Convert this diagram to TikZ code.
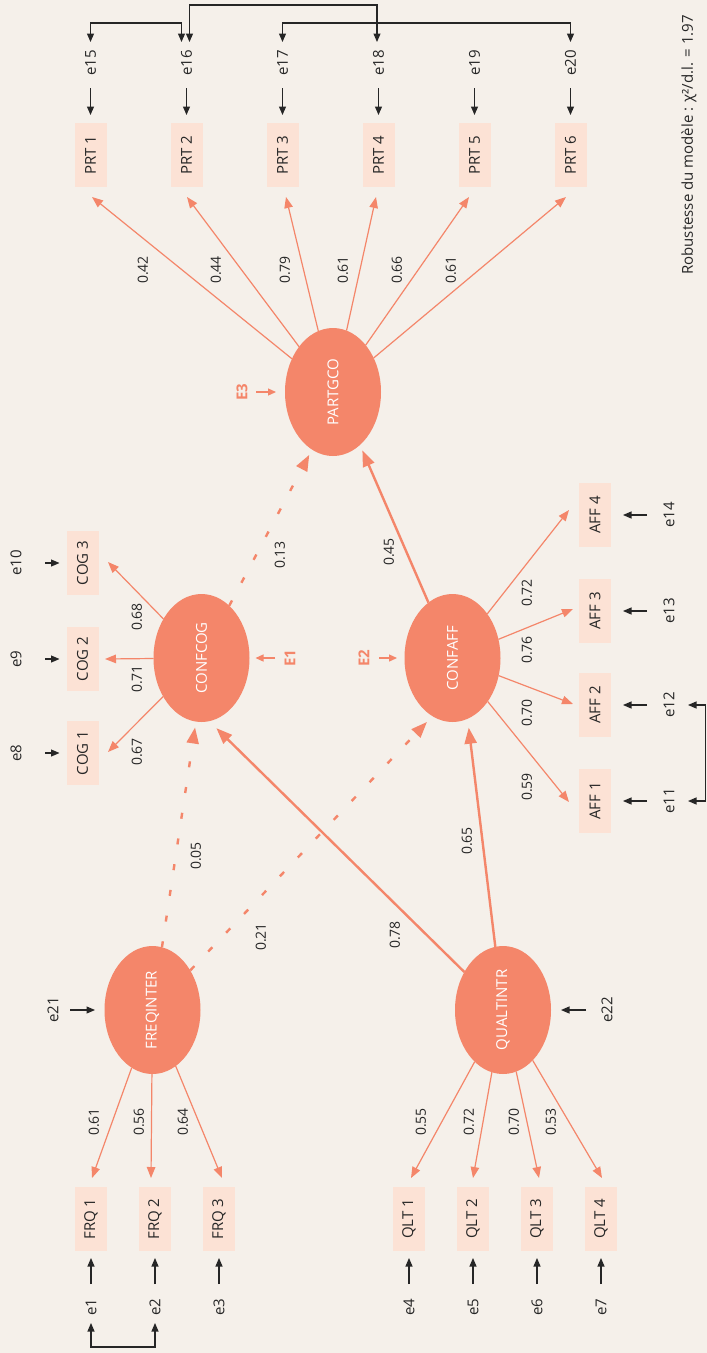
\documentclass[tikz,border=0pt]{standalone}
\usepackage{fontspec}
\setmainfont{Open Sans}
\usepackage{graphicx}
\usetikzlibrary{shapes.geometric,arrows.meta,calc}
\definecolor{bg}{HTML}{F5F0EA}
\definecolor{salmon}{HTML}{F4866A}
\definecolor{peach}{HTML}{FCE2D5}
\definecolor{ink}{HTML}{262626}
\newcommand\vtxt[1]{\rotatebox{90}{#1}}
\newcommand\txtfont{\fontsize{15}{18}\selectfont}
\newcommand\numfont{\fontsize{14}{17}\selectfont}

\begin{document}
\begin{tikzpicture}[x=1pt,y=-1pt,
  latent/.style={ellipse, fill=salmon, minimum width=96pt, minimum height=128pt,
    inner sep=0pt, outer sep=0pt, text=white, font=\txtfont},
  indbox/.style={rectangle, fill=peach, minimum width=32pt, minimum height=64pt,
    inner sep=0pt, outer sep=0pt, text=ink, font=\txtfont},
  errlbl/.style={inner sep=0pt, outer sep=0pt, minimum width=14pt, minimum height=30pt,
    text=ink, font=\txtfont},
  coef/.style={inner sep=0pt, text=ink, font=\numfont},
  distlbl/.style={inner sep=0pt, outer sep=0pt, minimum width=12pt, text=salmon,
    font=\txtfont\bfseries},
  meas/.style={draw=salmon, line width=1.2pt, -{Triangle[length=11pt,width=8.5pt]}},
  struct/.style={draw=salmon, line width=2.4pt, -{Triangle[length=16pt,width=12pt]}},
  weakpath/.style={struct, dash pattern=on 6pt off 20pt},
  erra/.style={draw=ink, line width=1.1pt, -{Triangle[length=8.5pt,width=7pt]}},
  cov/.style={draw=ink, line width=1.1pt,
    {Triangle[length=8.5pt,width=7pt]}-{Triangle[length=8.5pt,width=7pt]}},
  darr/.style={draw=salmon, line width=1.3pt, -{Triangle[length=8pt,width=7pt]}},
]
\fill[bg] (0,0) rectangle (707,1353);
\useasboundingbox (0,0) rectangle (707,1353);

% latent variables
\node[latent] (PARTGCO)   at (333,392)    {\vtxt{PARTGCO}};
\node[latent] (CONFCOG)   at (201.5,658)  {\vtxt{CONFCOG}};
\node[latent] (CONFAFF)   at (452.5,658)  {\vtxt{CONFAFF}};
\node[latent] (FREQINTER) at (152.5,1010) {\vtxt{FREQINTER}};
\node[latent] (QUALTINTR) at (503,1010)   {\vtxt{QUALTINTR}};

% participation items
\node[indbox] (PRT1) at (90.5,155)  {\vtxt{PRT 1}};
\node[indbox] (PRT2) at (186.5,155) {\vtxt{PRT 2}};
\node[indbox] (PRT3) at (282.5,155) {\vtxt{PRT 3}};
\node[indbox] (PRT4) at (378.5,155) {\vtxt{PRT 4}};
\node[indbox] (PRT5) at (474.5,155) {\vtxt{PRT 5}};
\node[indbox] (PRT6) at (570.5,155) {\vtxt{PRT 6}};
\node[errlbl] (e15) at (90.5,63)  {\vtxt{e15}};
\node[errlbl] (e16) at (186.5,63) {\vtxt{e16}};
\node[errlbl] (e17) at (282.5,63) {\vtxt{e17}};
\node[errlbl] (e18) at (378.5,63) {\vtxt{e18}};
\node[errlbl] (e19) at (474.5,63) {\vtxt{e19}};
\node[errlbl] (e20) at (570.5,63) {\vtxt{e20}};
\foreach \i/\e in {1/15,2/16,3/17,4/18,5/19,6/20}
  \draw[erra] ($(e\e.south)+(0,10)$) -- ($(PRT\i.north)+(0,-8)$);
\draw[cov] ($(e15.north)+(0,-6)$) -- ++(0,-19) -| ($(e16.north)+(-5,-6)$);
\draw[cov] ($(e16.north)+(3,-6)$) -- ++(0,-37) -| ($(e18.north)+(-1.5,-6)$);
\draw[cov] ($(e17.north)+(0,-6)$) -- ++(0,-19) -| ($(e20.north)+(0,-6)$);

\draw[meas] (PARTGCO) -- ($(PRT1.south)+(1.5,10)$);
\draw[meas] (PARTGCO) -- ($(PRT2.south)+(0.5,10)$);
\draw[meas] (PARTGCO) -- ($(PRT3.south)+(3.5,10)$);
\draw[meas] (PARTGCO) -- ($(PRT4.south)+(-2.5,10)$);
\draw[meas] (PARTGCO) -- ($(PRT5.south)+(-5.5,10)$);
\draw[meas] (PARTGCO) -- ($(PRT6.south)+(-4.5,10)$);
\node[coef] at (143,270) {\vtxt{0.42}};
\node[coef] at (216,270) {\vtxt{0.44}};
\node[coef] at (285,270) {\vtxt{0.79}};
\node[coef] at (343,270) {\vtxt{0.61}};
\node[coef] at (397,270) {\vtxt{0.66}};
\node[coef] at (451,270) {\vtxt{0.61}};

% cognitive items
\node[indbox] (COG3) at (82.5,563) {\vtxt{COG 3}};
\node[indbox] (COG2) at (82.5,659) {\vtxt{COG 2}};
\node[indbox] (COG1) at (82.5,753) {\vtxt{COG 1}};
\node[errlbl] (e10) at (16,563) {\vtxt{e10}};
\node[errlbl] (e9)  at (16,659) {\vtxt{e9}};
\node[errlbl] (e8)  at (16,753) {\vtxt{e8}};
\foreach \c/\e in {3/10,2/9,1/8}
  \draw[erra] ($(e\e.east)+(22,0)$) -- ($(COG\c.west)+(-7,0)$);
\draw[meas] (CONFCOG) -- ($(COG3.east)+(9.5,-1)$);
\draw[meas] (CONFCOG) -- ($(COG2.east)+(6.5,0)$);
\draw[meas] (CONFCOG) -- ($(COG1.east)+(9.5,-1)$);
\node[coef] at (137,617) {\vtxt{0.68}};
\node[coef] at (137,679) {\vtxt{0.71}};
\node[coef] at (137,752) {\vtxt{0.67}};

% affective items
\node[indbox] (AFF4) at (595,515) {\vtxt{AFF 4}};
\node[indbox] (AFF3) at (595,611) {\vtxt{AFF 3}};
\node[indbox] (AFF2) at (595,705) {\vtxt{AFF 2}};
\node[indbox] (AFF1) at (595,801) {\vtxt{AFF 1}};
\node[errlbl] (e14) at (669,515) {\vtxt{e14}};
\node[errlbl] (e13) at (669,611) {\vtxt{e13}};
\node[errlbl] (e12) at (669,705) {\vtxt{e12}};
\node[errlbl] (e11) at (669,801) {\vtxt{e11}};
\foreach \a/\e in {4/14,3/13,2/12,1/11}
  \draw[erra] ($(e\e.west)+(-15,0)$) -- ($(AFF\a.east)+(12,0)$);
\draw[cov] ($(e12.east)+(12,0)$) -- ++(17.5,0) |- ($(e11.east)+(12,0)$);
\draw[meas] (CONFAFF) -- ($(AFF4.west)+(-10,-5)$);
\draw[meas] (CONFAFF) -- ($(AFF3.west)+(-6,-2)$);
\draw[meas] (CONFAFF) -- ($(AFF2.west)+(-6,-1)$);
\draw[meas] (CONFAFF) -- ($(AFF1.west)+(-10,1)$);
\node[coef] at (527,593) {\vtxt{0.72}};
\node[coef] at (527,650) {\vtxt{0.76}};
\node[coef] at (527,713) {\vtxt{0.70}};
\node[coef] at (527,787) {\vtxt{0.59}};

% disturbances
\node[distlbl] (E3) at (242,392) {\vtxt{E3}};
\node[distlbl] (E1) at (290,658) {\vtxt{E1}};
\node[distlbl] (E2) at (364,658) {\vtxt{E2}};
\draw[darr] ($(E3.east)+(8,0)$) -- ($(PARTGCO.west)+(-9,0)$);
\draw[darr] ($(E1.west)+(-9,0)$) -- ($(CONFCOG.east)+(6,0)$);
\draw[darr] ($(E2.east)+(9,0)$) -- ($(CONFAFF.west)+(-7.5,0)$);

% structural paths
\draw[struct, shorten >=6pt]  (CONFAFF)   -- (PARTGCO.297);
\draw[struct, shorten >=10pt] (QUALTINTR) -- (CONFCOG.277);
\draw[struct, shorten >=9pt]  (QUALTINTR) -- (CONFAFF.284);
\draw[weakpath, shorten >=6pt] (CONFCOG)   -- (PARTGCO.250);
\draw[weakpath, shorten >=6pt] (FREQINTER) -- (CONFCOG.265);
\draw[weakpath, shorten >=8pt] (FREQINTER) -- (CONFAFF.251);
\node[coef] at (280,555) {\vtxt{0.13}};
\node[coef] at (389,552) {\vtxt{0.45}};
\node[coef] at (196,856) {\vtxt{0.05}};
\node[coef] at (261,937) {\vtxt{0.21}};
\node[coef] at (395,935) {\vtxt{0.78}};
\node[coef] at (467,841) {\vtxt{0.65}};

% exogenous disturbances
\node[errlbl] (e21) at (53,1010)  {\vtxt{e21}};
\node[errlbl] (e22) at (607,1010) {\vtxt{e22}};
\draw[erra] ($(e21.east)+(10,0)$) -- ($(FREQINTER.west)+(-9.5,0)$);
\draw[erra] ($(e22.west)+(-14,0)$) -- ($(QUALTINTR.east)+(10,0)$);

% frequency items
\node[indbox] (FRQ1) at (91,1219)  {\vtxt{FRQ 1}};
\node[indbox] (FRQ2) at (155,1219) {\vtxt{FRQ 2}};
\node[indbox] (FRQ3) at (219,1219) {\vtxt{FRQ 3}};
\node[errlbl] (e1) at (91,1307)  {\vtxt{e1}};
\node[errlbl] (e2) at (155,1307) {\vtxt{e2}};
\node[errlbl] (e3) at (219,1307) {\vtxt{e3}};
\foreach \i in {1,2,3}
  \draw[erra] ($(e\i.north)+(0,-8)$) -- ($(FRQ\i.south)+(0,7)$);
\draw[cov] ($(e1.south)+(0,1)$) -- ++(0,24) -| ($(e2.south)+(0,1)$);
\draw[meas] (FREQINTER) -- ($(FRQ1.north)+(1,-9)$);
\draw[meas] (FREQINTER) -- ($(FRQ2.north)+(-4,-9)$);
\draw[meas] (FREQINTER) -- ($(FRQ3.north)+(3,-9)$);
\node[coef] at (94,1122)  {\vtxt{0.61}};
\node[coef] at (139,1122) {\vtxt{0.56}};
\node[coef] at (183,1122) {\vtxt{0.64}};

% quality items
\node[indbox] (QLT1) at (409,1219) {\vtxt{QLT 1}};
\node[indbox] (QLT2) at (473,1219) {\vtxt{QLT 2}};
\node[indbox] (QLT3) at (537,1219) {\vtxt{QLT 3}};
\node[indbox] (QLT4) at (601,1219) {\vtxt{QLT 4}};
\node[errlbl] (e4) at (409,1307) {\vtxt{e4}};
\node[errlbl] (e5) at (473,1307) {\vtxt{e5}};
\node[errlbl] (e6) at (537,1307) {\vtxt{e6}};
\node[errlbl] (e7) at (601,1307) {\vtxt{e7}};
\foreach \i/\e in {1/4,2/5,3/6,4/7}
  \draw[erra] ($(e\e.north)+(0,-8)$) -- ($(QLT\i.south)+(0,7)$);
\draw[meas] (QUALTINTR) -- ($(QLT1.north)+(2,-9)$);
\draw[meas] (QUALTINTR) -- ($(QLT2.north)+(0,-9)$);
\draw[meas] (QUALTINTR) -- ($(QLT3.north)+(2,-9)$);
\draw[meas] (QUALTINTR) -- ($(QLT4.north)+(1,-9)$);
\node[coef] at (421,1122) {\vtxt{0.55}};
\node[coef] at (469,1122) {\vtxt{0.72}};
\node[coef] at (514,1122) {\vtxt{0.70}};
\node[coef] at (551,1122) {\vtxt{0.53}};

% model fit
\node[coef, font=\txtfont] (fit) at (689,145) {\vtxt{Robustesse du modèle : χ²/d.l. = 1.97}};
\end{tikzpicture}
\end{document}
